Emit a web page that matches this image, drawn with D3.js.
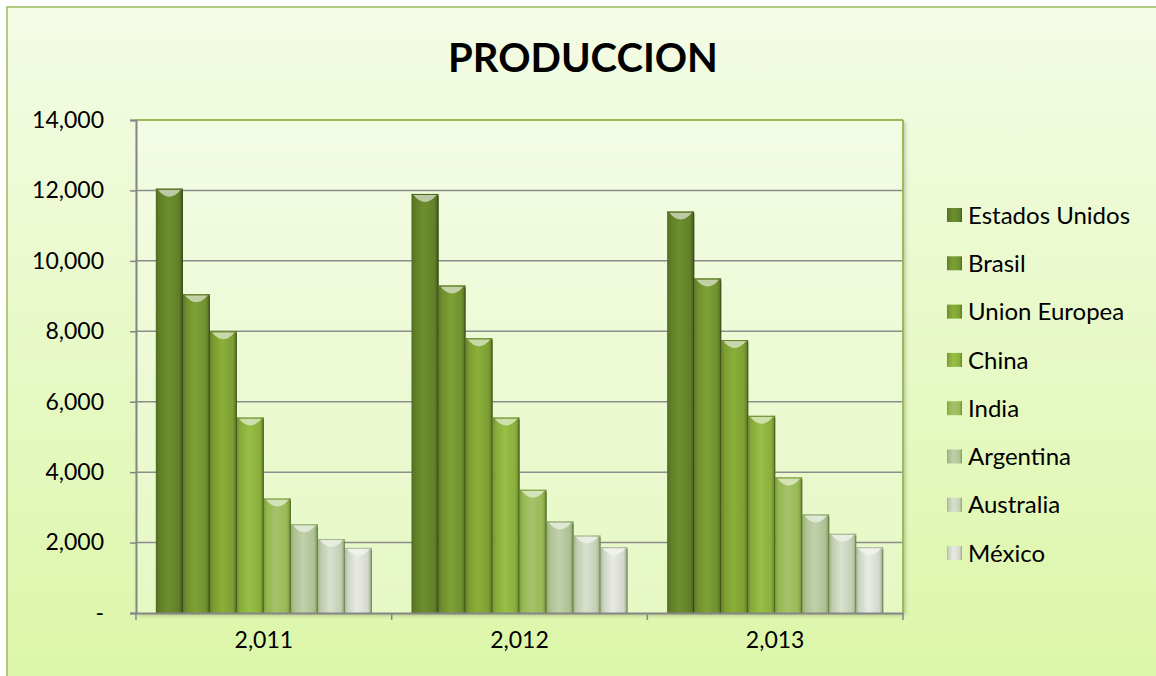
<!DOCTYPE html>
<html><head><meta charset="utf-8">
<script src="https://cdn.jsdelivr.net/npm/d3@7/dist/d3.min.js"></script>
<style>html,body{margin:0;padding:0;background:#fff;}svg{display:block;}</style>
</head><body>
<script>
const years = ["2,011", "2,012", "2,013"];
const countries = ["Estados Unidos", "Brasil", "Union Europea", "China", "India", "Argentina", "Australia", "México"];
const v2011 = [12050, 9050, 8000, 5550, 3250, 2520, 2100, 1850];
const v2012 = [11900, 9300, 7800, 5550, 3500, 2600, 2200, 1870];
const v2013 = [11400, 9500, 7750, 5600, 3850, 2800, 2250, 1870];
const yTicks = [0, 2000, 4000, 6000, 8000, 10000, 12000, 14000];
const barColors = ["#64842a", "#739530", "#80a335", "#8db43d", "#9bbc5a", "#b3c69a", "#c9d4bb", "#d8ddd0"];
const title = "PRODUCCION";

const W = 1156, H = 676;
const plot = {l: 136, t: 120, r: 903, b: 613};
const values = [v2011, v2012, v2013];

const svg = d3.select("body").append("svg").attr("width", W).attr("height", H);
const defs = svg.append("defs");

const bg = defs.append("linearGradient").attr("id", "bg").attr("x1", 0).attr("y1", 0).attr("x2", 0).attr("y2", 1);
bg.append("stop").attr("offset", 0).attr("stop-color", "#f4fce6");
bg.append("stop").attr("offset", 1).attr("stop-color", "#dbf6a6");
const pbg = defs.append("linearGradient").attr("id", "pbg").attr("x1", 0).attr("y1", 0).attr("x2", 0).attr("y2", 1);
pbg.append("stop").attr("offset", 0).attr("stop-color", "#f3fce5");
pbg.append("stop").attr("offset", 1).attr("stop-color", "#e6f8c4");

function shade(c, k) { const h = d3.hsl(c); h.l = Math.max(0, Math.min(1, h.l * k)); return h.toString(); }
barColors.forEach((c, i) => {
  const g = defs.append("linearGradient").attr("id", "bar" + i).attr("x1", 0).attr("y1", 0).attr("x2", 1).attr("y2", 0);
  g.append("stop").attr("offset", 0).attr("stop-color", shade(c, 0.8));
  g.append("stop").attr("offset", 0.12).attr("stop-color", shade(c, 0.95));
  g.append("stop").attr("offset", 0.45).attr("stop-color", shade(c, 1.08));
  g.append("stop").attr("offset", 0.85).attr("stop-color", shade(c, 0.97));
  g.append("stop").attr("offset", 1).attr("stop-color", shade(c, 0.7));
});
const sh = defs.append("filter").attr("id", "shadow").attr("x", "-20%").attr("y", "-20%").attr("width", "140%").attr("height", "140%");
sh.append("feGaussianBlur").attr("in", "SourceAlpha").attr("stdDeviation", 2);
sh.append("feOffset").attr("dx", 2).attr("dy", 2).attr("result", "o");
sh.append("feComponentTransfer").append("feFuncA").attr("type", "linear").attr("slope", 0.25);
const m = sh.append("feMerge"); m.append("feMergeNode"); m.append("feMergeNode").attr("in", "SourceGraphic");

// outer chart background
svg.append("rect").attr("x", 0).attr("y", 0).attr("width", W).attr("height", H).attr("fill", "#ffffff");
svg.append("rect").attr("x", 7).attr("y", 7).attr("width", W + 20).attr("height", H + 20)
  .attr("fill", "url(#bg)").attr("stroke", "#9bbb59").attr("stroke-width", 1.5);

// plot area
svg.append("rect").attr("x", plot.l).attr("y", plot.t).attr("width", plot.r - plot.l).attr("height", plot.b - plot.t)
  .attr("fill", "url(#pbg)").attr("filter", "url(#shadow)");

const y = d3.scaleLinear().domain([0, 14000]).range([plot.b, plot.t]);
const x0 = d3.scaleBand().domain(years).range([plot.l, plot.r]).paddingInner(0.155).paddingOuter(0.0775);
const x1 = d3.scaleBand().domain(countries).range([0, x0.bandwidth()]).padding(0);

// gridlines
svg.append("g").selectAll("line").data(yTicks.filter(d => d > 0)).join("line")
  .attr("x1", plot.l).attr("x2", plot.r).attr("y1", d => y(d)).attr("y2", d => y(d))
  .attr("stroke", d => d === 14000 ? "#9bbb59" : "#8c8c8c").attr("stroke-width", d => d === 14000 ? 2 : 1.5);
svg.append("line").attr("x1", plot.r).attr("x2", plot.r).attr("y1", plot.t).attr("y2", plot.b)
  .attr("stroke", "#9bbb59").attr("stroke-width", 2);

// bars
const groups = svg.append("g").selectAll("g").data(years).join("g")
  .attr("transform", d => `translate(${x0(d)},0)`);
groups.each(function(yr, yi) {
  const g = d3.select(this);
  const data = countries.map((c, ci) => ({c, ci, v: values[yi][ci]}));
  g.selectAll("rect.bar").data(data).join("rect").attr("class", "bar")
    .attr("x", d => x1(d.c)).attr("width", x1.bandwidth())
    .attr("y", d => y(d.v)).attr("height", d => y(0) - y(d.v))
    .attr("fill", d => `url(#bar${d.ci})`);
  g.selectAll("line.edge").data(data).join("line").attr("class", "edge")
    .attr("x1", d => x1(d.c) + x1.bandwidth() - 0.5).attr("x2", d => x1(d.c) + x1.bandwidth() - 0.5)
    .attr("y1", d => y(d.v) + 2).attr("y2", y(0))
    .attr("stroke", d => shade(barColors[d.ci], 0.55)).attr("stroke-width", 1.3).attr("opacity", 0.85);
  g.selectAll("path.cap").data(data).join("path").attr("class", "cap")
    .attr("d", d => {
      const bx = x1(d.c), bw = x1.bandwidth(), ty = y(d.v);
      return `M${bx + 2},${ty + 1} Q${bx + bw / 2},${ty + 15} ${bx + bw - 2},${ty + 1} Z`;
    })
    .attr("fill", d => d3.interpolateRgb(barColors[d.ci], "#ffffff")(0.6)).attr("opacity", 0.95);
  g.selectAll("line.top").data(data).join("line").attr("class", "top")
    .attr("x1", d => x1(d.c)).attr("x2", d => x1(d.c) + x1.bandwidth())
    .attr("y1", d => y(d.v) + 0.5).attr("y2", d => y(d.v) + 0.5)
    .attr("stroke", d => shade(barColors[d.ci], 0.8)).attr("stroke-width", 1);
});

// axes
const font = "Lato, 'Open Sans', sans-serif";
const yAxis = svg.append("g").attr("transform", `translate(${plot.l},0)`)
  .call(d3.axisLeft(y).tickValues(yTicks).tickSize(6).tickPadding(26)
    .tickFormat(d => d === 0 ? "-" : d3.format(",")(d)));
yAxis.select(".domain").attr("stroke", "#868686").attr("stroke-width", 2);
yAxis.selectAll(".tick line").attr("stroke", "#868686").attr("stroke-width", 1.5);
yAxis.selectAll(".tick text").attr("font-family", font).attr("font-size", 23).attr("fill", "#000");

const xAxis = svg.append("g").attr("transform", `translate(0,${plot.b})`)
  .call(d3.axisBottom(x0).tickSize(0).tickPadding(19));
xAxis.select(".domain").attr("stroke", "#868686").attr("stroke-width", 2);
xAxis.selectAll(".tick text").attr("font-family", font).attr("font-size", 23).attr("fill", "#000");
const step = x0.step();
svg.append("g").selectAll("line").data(d3.range(4)).join("line")
  .attr("x1", d => plot.l + d * step).attr("x2", d => plot.l + d * step)
  .attr("y1", plot.b).attr("y2", plot.b + 7).attr("stroke", "#868686").attr("stroke-width", 1.5);

// title
svg.append("text").attr("x", 583).attr("y", 72).attr("text-anchor", "middle")
  .attr("font-family", font).attr("font-weight", "bold").attr("font-size", 40).attr("fill", "#000").text(title);

// legend
const lg = svg.append("g").selectAll("g").data(countries).join("g")
  .attr("transform", (d, i) => `translate(947,${215 + i * 48.3})`);
lg.append("rect").attr("x", 0).attr("y", -7).attr("width", 15).attr("height", 14)
  .attr("fill", (d, i) => `url(#bar${i})`);
lg.append("text").attr("x", 21).attr("y", 0).attr("dy", "0.36em")
  .attr("font-family", font).attr("font-size", 24).attr("fill", "#000").text(d => d);
</script>
</body></html>
